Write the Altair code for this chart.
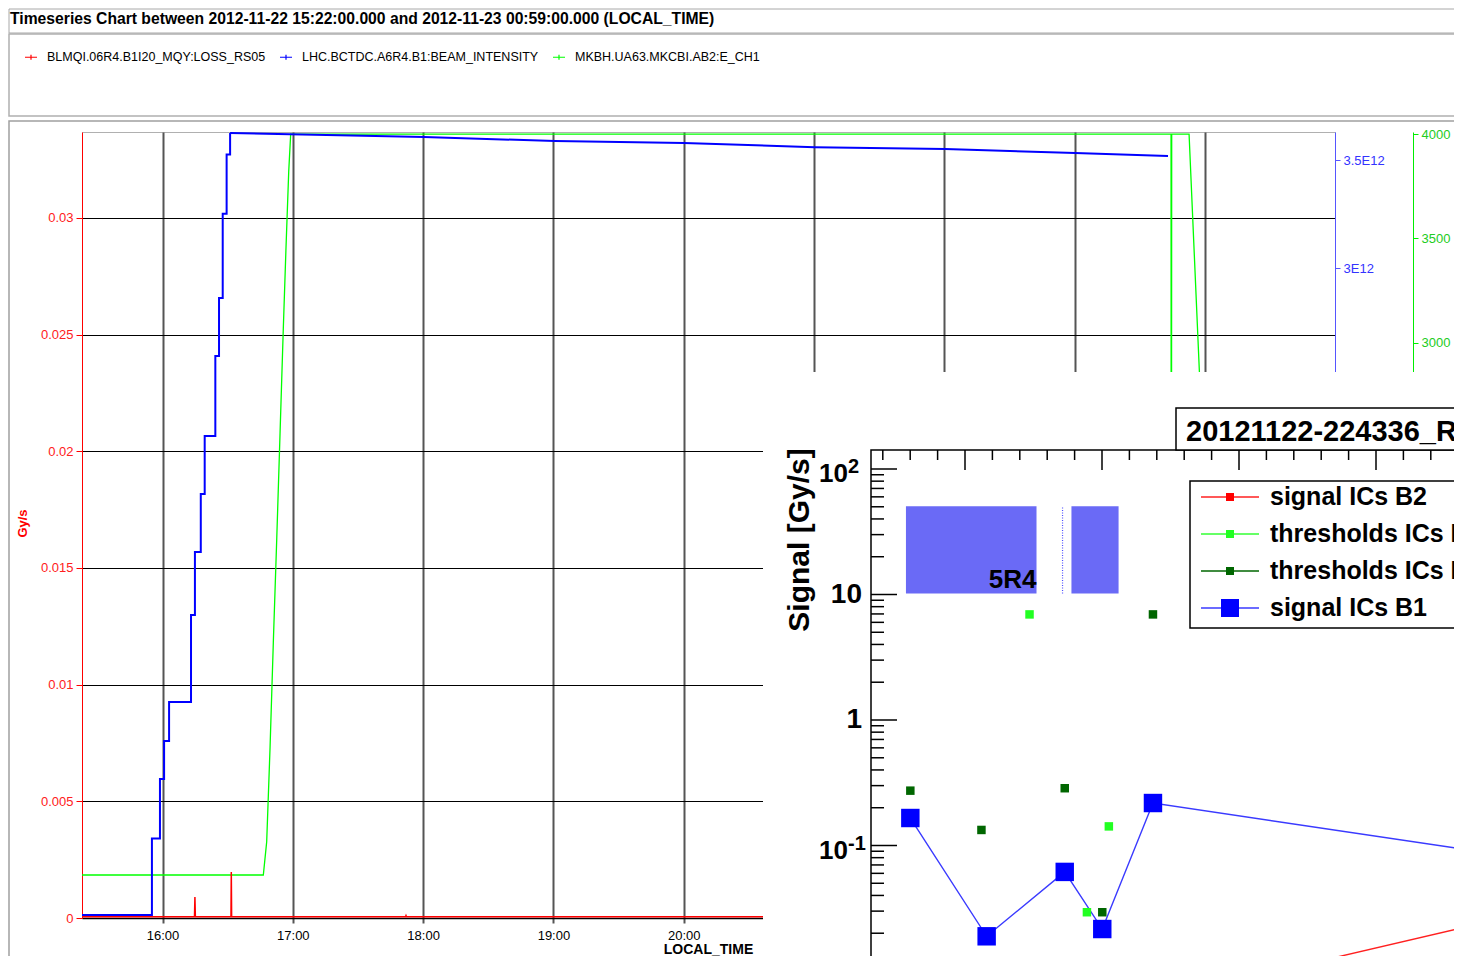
import altair as alt
import pandas as pd

# ---------------- header / main time series ----------------
chart_title = "Timeseries Chart between 2012-11-22 15:22:00.000 and 2012-11-23 00:59:00.000 (LOCAL_TIME)"
series_names = ["BLMQI.06R4.B1I20_MQY:LOSS_RS05", "LHC.BCTDC.A6R4.B1:BEAM_INTENSITY", "MKBH.UA63.MKCBI.AB2:E_CH1"]
series_colors = ["#ff0000", "#0000ff", "#00ff00"]

loss_times = ["2012-11-22T15:22:55", "2012-11-22T16:14:43", "2012-11-22T16:14:55", "2012-11-22T16:15:07",
              "2012-11-22T16:31:31", "2012-11-22T16:31:40", "2012-11-22T16:31:49",
              "2012-11-22T17:51:55", "2012-11-22T17:52:07", "2012-11-22T17:52:19",
              "2012-11-23T00:59:55"]
loss_values = [0.00005, 0.00005, 0.0009, 0.00005, 0.00005, 0.00197, 0.00005,
               0.00005, 0.0001, 0.00005, 0.00005]

# injection steps (stepwise) and the slow decay afterwards
intensity_inj_times = ["2012-11-22T15:22:55", "2012-11-22T15:55:07", "2012-11-22T15:58:49", "2012-11-22T16:00:43",
                       "2012-11-22T16:03:01", "2012-11-22T16:13:07", "2012-11-22T16:14:55", "2012-11-22T16:17:37",
                       "2012-11-22T16:19:25", "2012-11-22T16:24:19", "2012-11-22T16:26:01", "2012-11-22T16:27:43",
                       "2012-11-22T16:29:31", "2012-11-22T16:31:07"]
intensity_inj_values = [0.014e12, 0.367e12, 0.642e12, 0.817e12, 0.998e12, 1.399e12, 1.690e12, 1.958e12,
                        2.226e12, 2.595e12, 2.863e12, 3.253e12, 3.526e12, 3.625e12]
intensity_decay_times = ["2012-11-22T16:31:07", "2012-11-22T16:58:43", "2012-11-22T18:00:25",
                         "2012-11-22T19:00:43", "2012-11-22T20:00:07", "2012-11-22T21:00:25",
                         "2012-11-22T22:00:19", "2012-11-22T23:00:13", "2012-11-22T23:43:01"]
intensity_decay_values = [3.625e12, 3.620e12, 3.607e12, 3.588e12, 3.579e12, 3.560e12,
                          3.551e12, 3.533e12, 3.519e12]

energy_times = ["2012-11-22T15:22:55", "2012-11-22T16:46:25", "2012-11-22T16:47:58", "2012-11-22T16:49:31",
                "2012-11-22T16:51:01", "2012-11-22T16:52:37", "2012-11-22T16:54:07", "2012-11-22T16:55:37",
                "2012-11-22T16:56:49", "2012-11-22T16:58:07", "2012-11-22T16:59:01", "2012-11-22T23:44:25",
                "2012-11-22T23:44:31", "2012-11-22T23:44:43", "2012-11-22T23:52:43", "2012-11-22T23:57:31",
                "2012-11-23T00:07:07", "2012-11-23T00:59:55"]
energy_values = [450, 450, 609, 1061, 1563, 2067, 2566, 3069, 3443, 3822, 4000, 4000,
                 450, 4000, 4000, 2849, 450, 450]

loss_ticks = [0, 0.005, 0.01, 0.015, 0.02, 0.025, 0.03]
intensity_ticks = [0.5e12, 1e12, 1.5e12, 2e12, 2.5e12, 3e12, 3.5e12]
energy_ticks = [500, 1000, 1500, 2000, 2500, 3000, 3500, 4000]

# ---------------- inset (loss map) ----------------
inset_title = "20121122-224336_RS05_lossmap"
inset_names = ["signal ICs B2", "thresholds ICs B2", "thresholds ICs B1", "signal ICs B1"]
b1_pos = [6.01, 11.58, 17.28, 20.02, 23.72, 56.35]
b1_signal = [0.1656, 0.0189, 0.0616, 0.0216, 0.218, 0.0644]
b2_pos = [27.15, 56.35]
b2_signal = [0.0072, 0.0397]
thr_b2_pos = [14.71, 18.90, 20.50]
thr_b2_value = [6.94, 0.0294, 0.142]
thr_b1_pos = [6.01, 11.20, 17.28, 20.02, 23.72]
thr_b1_value = [0.2735, 0.133, 0.286, 0.0294, 6.94]

region_labels = ["5R4", ""]
region_start = [5.69, 17.77]
region_end = [15.22, 21.21]
region_low = [10.2, 10.2]
region_high = [50.6, 50.6]
gap_line_pos = [17.12]

top_major_ticks = [10, 20, 30, 40]
top_minor_ticks = [u for u in range(4, 48, 2) if u % 10 != 0]
left_major_ticks = [0.01, 0.1, 1, 10, 100]
left_minor_ticks = [k * 10.0 ** e for e in (-2, -1, 0, 1) for k in range(2, 10)]
plain_label_values = [10, 1]
plain_label_text = ["10", "1"]
exp_label_values = [100, 0.1, 0.01]
exp_label_base = ["10", "10", "10"]
exp_label_power = ["2", "-1", "-2"]

# ---------------- styles ----------------
FONT = "Liberation Sans"
dummy = pd.DataFrame({"k": [0]})

x_domain = [alt.DateTime(year=2012, month=11, date=22, hours=15, minutes=22, seconds=55),
            alt.DateTime(year=2012, month=11, date=23, hours=0, minutes=59, seconds=55)]
hour_ticks = [alt.DateTime(year=2012, month=11, date=22, hours=h) for h in range(16, 24)] + \
             [alt.DateTime(year=2012, month=11, date=23, hours=0)]

color_scale = alt.Scale(domain=series_names, range=series_colors)
legend = alt.Legend(title=None, orient="none", legendX=-58, legendY=-82, direction="horizontal",
                    symbolType="M-1,0L1,0M0,-0.4L0,0.4", symbolSize=144, symbolStrokeWidth=1.2,
                    labelFont=FONT, labelFontSize=12.5, labelColor="black", labelOffset=9,
                    columnPadding=11, padding=0, labelLimit=500)


def time_x(axis=None):
    return alt.X("t:T", scale=alt.Scale(domain=x_domain), axis=axis)


x_axis = alt.Axis(orient="bottom", values=hour_ticks, format="%H:%M", grid=True, gridColor="#555555",
                  gridWidth=2, domainColor="#000000", domainWidth=1.5, tickColor="#555555", tickWidth=2,
                  tickSize=5, labelColor="black", labelFont=FONT, labelFontSize=13, labelPadding=6,
                  title="LOCAL_TIME", titleFont=FONT, titleFontSize=14, titleFontWeight="bold",
                  titleX=626, titleY=35, titleAlign="center", titleBaseline="alphabetic", titleColor="black")
red_axis = alt.Axis(orient="left", values=loss_ticks, labelExpr="'' + datum.value", grid=True,
                    gridColor="#000000", gridWidth=1, domainColor="#ff0000", tickColor="#ff0000",
                    labelColor="#ff2020", labelFont=FONT, labelFontSize=13, tickSize=6, labelPadding=3,
                    title="Gy/s", titleColor="#ff0000", titleFont=FONT, titleFontSize=13,
                    titleFontWeight="bold", titleAngle=270, titleX=-60, titleY=391, titleAlign="center",
                    titleBaseline="middle")
blue_axis = alt.Axis(orient="right", values=intensity_ticks, labelExpr="(datum.value / 1e12) + 'E12'",
                     grid=False, domainColor="#5555ff", tickColor="#5555ff", labelColor="#3333ff",
                     labelFont=FONT, labelFontSize=13, tickSize=5, labelPadding=3, title=None)
green_axis = alt.Axis(orient="right", offset=78, values=energy_ticks, format="d", grid=False,
                      domainColor="#00ee00", tickColor="#00ee00", labelColor="#22cc22", labelFont=FONT,
                      labelFontSize=13, tickSize=5, labelPadding=3, title=None)

loss_df = pd.DataFrame({"t": loss_times, "value": loss_values, "series": series_names[0]})
inj_df = pd.DataFrame({"t": intensity_inj_times, "value": intensity_inj_values, "series": series_names[1]})
decay_df = pd.DataFrame({"t": intensity_decay_times, "value": intensity_decay_values, "series": series_names[1]})
energy_df = pd.DataFrame({"t": energy_times, "value": energy_values, "series": series_names[2]})

# frames of the timber window
frames = [
    alt.Chart(dummy).mark_rect(fill="white", stroke="#a8a8a8", strokeWidth=1).encode(
        x=alt.value(-73), x2=alt.value(1400), y=alt.value(-123), y2=alt.value(-99)),
    alt.Chart(dummy).mark_rect(fill="white", stroke="#b0b0b0", strokeWidth=1.5).encode(
        x=alt.value(-73), x2=alt.value(1400), y=alt.value(-98), y2=alt.value(-16)),
    alt.Chart(dummy).mark_rect(fill="transparent", stroke="#a0a0a0", strokeWidth=1.5).encode(
        x=alt.value(-73), x2=alt.value(1400), y=alt.value(-11), y2=alt.value(860)),
]

title_text = alt.Chart(pd.DataFrame({"label": [chart_title]})).mark_text(
    align="left", baseline="alphabetic", font=FONT, fontSize=15.7, fontWeight="bold", color="black"
).encode(text="label:N", x=alt.value(-72), y=alt.value(-108))

green_y = alt.Y("value:Q", scale=alt.Scale(domain=[244, 4010], nice=False, zero=False), axis=green_axis)
blue_scale = alt.Scale(domain=[0, 3.63e12], nice=False, zero=False)

green = alt.Chart(energy_df).mark_line(strokeWidth=1.3).encode(
    x=time_x(), y=green_y,
    color=alt.Color("series:N", scale=color_scale, legend=legend))
blue_inj = alt.Chart(inj_df).mark_line(strokeWidth=2, interpolate="step-after").encode(
    x=time_x(),
    y=alt.Y("value:Q", scale=blue_scale, axis=blue_axis),
    color=alt.Color("series:N", scale=color_scale, legend=legend))
blue_decay = alt.Chart(decay_df).mark_line(strokeWidth=2).encode(
    x=time_x(),
    y=alt.Y("value:Q", scale=blue_scale, axis=None),
    color=alt.Color("series:N", scale=color_scale, legend=legend))
red = alt.Chart(loss_df).mark_line(strokeWidth=1.5).encode(
    x=time_x(x_axis),
    y=alt.Y("value:Q", scale=alt.Scale(domain=[0, 0.03368], nice=False, zero=False), axis=red_axis),
    color=alt.Color("series:N", scale=color_scale, legend=legend))

# ---------------- inset ----------------
ix_scale = alt.Scale(domain=[10, 20], range=[883, 1020], nice=False, zero=False)
iy_scale = alt.Scale(type="log", domain=[0.01, 100], range=[839, 337], nice=False)
fill_scale = alt.Scale(domain=inset_names, range=["#ff0000", "#22ff22", "#006600", "#0000ff"])
stroke_scale = alt.Scale(domain=inset_names, range=["#ff2020", "#33ff33", "#006600", "#3a3aff"])
INK = "#000000"
IFONT = FONT


def ix(field):
    return alt.X(field, scale=ix_scale, axis=None)


def iy(field):
    return alt.Y(field, scale=iy_scale, axis=None)


inset_bg = alt.Chart(dummy).mark_rect(fill="white").encode(
    x=alt.value(681), x2=alt.value(1400), y=alt.value(240), y2=alt.value(900))

region_df = pd.DataFrame({"label": region_labels, "start": region_start, "end": region_end,
                          "low": region_low, "high": region_high})
regions = alt.Chart(region_df).mark_rect(fill="#6a6af6").encode(
    x=ix("start:Q"), x2="end:Q", y=iy("low:Q"), y2="high:Q")
region_text = alt.Chart(region_df).mark_text(
    align="right", baseline="alphabetic", dy=-5, font=IFONT, fontSize=26, fontWeight="bold", color=INK
).encode(x=ix("end:Q"), y=iy("low:Q"), text="label:N")
gap_df = pd.DataFrame({"pos": gap_line_pos, "low": region_low[:1], "high": region_high[:1]})
gap_line = alt.Chart(gap_df).mark_rule(color="#5050ff", strokeDash=[1, 1.5], strokeWidth=1.2).encode(
    x=ix("pos:Q"), y=iy("low:Q"), y2="high:Q")

line_df = pd.concat([
    pd.DataFrame({"pos": b2_pos, "v": b2_signal, "series": inset_names[0]}),
    pd.DataFrame({"pos": b1_pos, "v": b1_signal, "series": inset_names[3]}),
])
small_df = pd.concat([
    pd.DataFrame({"pos": b2_pos, "v": b2_signal, "series": inset_names[0]}),
    pd.DataFrame({"pos": thr_b2_pos, "v": thr_b2_value, "series": inset_names[1]}),
    pd.DataFrame({"pos": thr_b1_pos, "v": thr_b1_value, "series": inset_names[2]}),
])
big_df = pd.DataFrame({"pos": b1_pos, "v": b1_signal, "series": inset_names[3]})

inset_lines = alt.Chart(line_df).mark_line(strokeWidth=1.4).encode(
    x=ix("pos:Q"), y=iy("v:Q"), stroke=alt.Stroke("series:N", scale=stroke_scale, legend=None),
    detail="series:N")
small_sq = alt.Chart(small_df).mark_square(size=72, opacity=1).encode(
    x=ix("pos:Q"), y=iy("v:Q"), fill=alt.Fill("series:N", scale=fill_scale, legend=None))
big_sq = alt.Chart(big_df).mark_square(size=340, opacity=1).encode(
    x=ix("pos:Q"), y=iy("v:Q"), fill=alt.Fill("series:N", scale=fill_scale, legend=None))

frame = alt.Chart(dummy).mark_rect(fill="transparent", stroke=INK, strokeWidth=1.5).encode(
    x=alt.value(789), x2=alt.value(1420), y=alt.value(318), y2=alt.value(900))

top_major = alt.Chart(pd.DataFrame({"pos": top_major_ticks})).mark_rule(color=INK, strokeWidth=1.5).encode(
    x=ix("pos:Q"), y=alt.value(318), y2=alt.value(338))
top_minor = alt.Chart(pd.DataFrame({"pos": top_minor_ticks})).mark_rule(color=INK, strokeWidth=1.5).encode(
    x=ix("pos:Q"), y=alt.value(318), y2=alt.value(328))
left_major = alt.Chart(pd.DataFrame({"v": left_major_ticks})).mark_rule(color=INK, strokeWidth=1.5).encode(
    y=iy("v:Q"), x=alt.value(789), x2=alt.value(815))
left_minor = alt.Chart(pd.DataFrame({"v": left_minor_ticks})).mark_rule(color=INK, strokeWidth=1.5).encode(
    y=iy("v:Q"), x=alt.value(789), x2=alt.value(802))

plain_labels = alt.Chart(pd.DataFrame({"v": plain_label_values, "label": plain_label_text})).mark_text(
    align="right", baseline="middle", font=IFONT, fontSize=28, fontWeight="bold", color=INK
).encode(y=iy("v:Q"), x=alt.value(780), text="label:N")
exp_df = pd.DataFrame({"v": exp_label_values, "base": exp_label_base, "power": exp_label_power})
exp_base = alt.Chart(exp_df).mark_text(
    align="right", baseline="alphabetic", dy=13, font=IFONT, fontSize=26, fontWeight="bold", color=INK
).encode(y=iy("v:Q"), x=alt.value(766), text="base:N")
exp_power = alt.Chart(exp_df).mark_text(
    align="left", baseline="alphabetic", dy=4, font=IFONT, fontSize=20, fontWeight="bold", color=INK
).encode(y=iy("v:Q"), x=alt.value(766), text="power:N")
y_title = alt.Chart(pd.DataFrame({"label": ["Signal [Gy/s]"]})).mark_text(
    align="center", baseline="alphabetic", angle=270, font=IFONT, fontSize=30, fontWeight="bold", color=INK
).encode(x=alt.value(727), y=alt.value(408), text="label:N")

title_box = alt.Chart(dummy).mark_rect(fill="white", stroke=INK, strokeWidth=1.5).encode(
    x=alt.value(1094), x2=alt.value(1420), y=alt.value(276), y2=alt.value(318))
inset_title_text = alt.Chart(pd.DataFrame({"label": [inset_title]})).mark_text(
    align="left", baseline="alphabetic", font=IFONT, fontSize=29, fontWeight="bold", color=INK
).encode(x=alt.value(1104), y=alt.value(309), text="label:N")

leg_df = pd.DataFrame({"series": inset_names})
leg_y = alt.Y("series:N", scale=alt.Scale(type="point", domain=inset_names, range=[365, 476], padding=0),
              axis=None)
legend_box = alt.Chart(dummy).mark_rect(fill="white", stroke=INK, strokeWidth=1.5).encode(
    x=alt.value(1108), x2=alt.value(1420), y=alt.value(349), y2=alt.value(496))
leg_rules = alt.Chart(leg_df).mark_rule(strokeWidth=1.5).encode(
    y=leg_y, x=alt.value(1119), x2=alt.value(1177),
    stroke=alt.Stroke("series:N", scale=stroke_scale, legend=None))
leg_small = alt.Chart(leg_df[leg_df["series"] != inset_names[3]]).mark_square(size=64, opacity=1).encode(
    y=leg_y, x=alt.value(1148), fill=alt.Fill("series:N", scale=fill_scale, legend=None))
leg_big = alt.Chart(leg_df[leg_df["series"] == inset_names[3]]).mark_square(size=324, opacity=1).encode(
    y=leg_y, x=alt.value(1148), fill=alt.Fill("series:N", scale=fill_scale, legend=None))
leg_text = alt.Chart(leg_df).mark_text(
    align="left", baseline="middle", font=IFONT, fontSize=25, fontWeight="bold", color=INK
).encode(y=leg_y, x=alt.value(1188), text="series:N")

chart = alt.layer(
    *frames, title_text, green, blue_inj, blue_decay, red,
    inset_bg, regions, gap_line, region_text, inset_lines, small_sq, big_sq,
    frame, top_major, top_minor, left_major, left_minor, plain_labels, exp_base, exp_power, y_title,
    title_box, inset_title_text, legend_box, leg_rules, leg_small, leg_big, leg_text,
).resolve_scale(
    x="independent", y="independent"
).properties(
    width=1253, height=786,
    padding={"left": 74, "top": 124, "right": 119, "bottom": 38},
    autosize=alt.AutoSizeParams(type="none"),
    background="white",
).configure_view(stroke="#b0b0b0", strokeWidth=1)

chart.save("out.html", embed_options={"renderer": "svg", "actions": False})
